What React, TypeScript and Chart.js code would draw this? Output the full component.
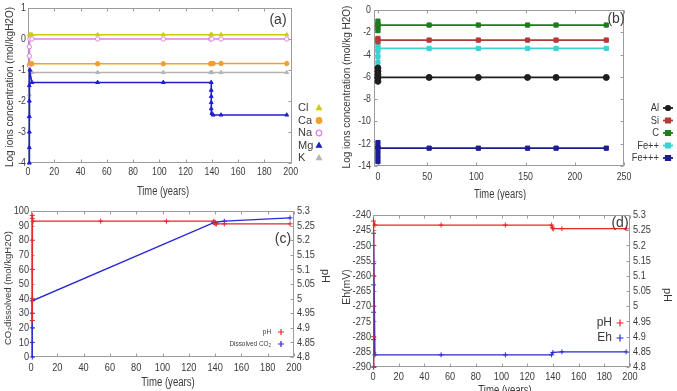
import React, { useEffect, useRef } from "react";
import { Chart, registerables } from "chart.js";

Chart.register(...registerables);

// ---------- panel (a): major ions (log mol/kgH2O) ----------
const ionXTicks = [0, 20, 40, 60, 80, 100, 120, 140, 160, 180, 200];
const ionYTicks = [-4, -3, -2, -1, 0, 1];

const clYears = [1, 2, 3, 53, 103, 139, 140, 147, 197];
const clLog = [0.14, 0.14, 0.14, 0.14, 0.14, 0.14, 0.14, 0.14, 0.14];

const caYears = [1.5, 3, 53, 103, 139, 140, 141, 147, 197];
const caLog = [-0.8, -0.8, -0.8, -0.8, -0.8, -0.79, -0.79, -0.79, -0.79];

const naYears = [1, 1, 1, 1.5, 3, 53, 103, 139, 140, 147, 197];
const naLog = [-0.85, -0.55, -0.25, 0, 0, 0, 0, 0, 0, 0, 0];

const mgYears = [1, 1, 1, 1, 1, 1, 1.5, 3, 53, 103, 139.5, 139.5, 139.5, 139.5, 139.5, 140, 141, 147, 197];
const mgLog = [-4.0, -3.5, -3.0, -2.5, -2.0, -1.5, -1.0, -1.4, -1.4, -1.4, -1.4, -1.65, -1.85, -2.05, -2.25, -2.4, -2.45, -2.45, -2.45];

const kYears = [1, 1, 1.5, 3, 53, 103, 139, 140, 147, 197];
const kLog = [-2.5, -1.8, -1.08, -1.08, -1.08, -1.08, -1.08, -1.08, -1.08, -1.08];

// ---------- panel (b): minor species ----------
const minorXTicks = [0, 50, 100, 150, 200, 250];
const minorYTicks = [-14, -12, -10, -8, -6, -4, -2, 0];

const alYears = [0, 0, 0, 0, 0, 0, 52, 102, 152, 181, 232];
const alLog = [-5.2, -5.5, -5.8, -6.1, -6.4, -6.05, -6.05, -6.05, -6.05, -6.05, -6.05];

const siYears = [0, 0, 0, 52, 102, 152, 181, 232];
const siLog = [-2.55, -2.85, -2.7, -2.7, -2.7, -2.7, -2.7, -2.7];

const cYears = [0, 0, 0, 0, 0, 52, 102, 152, 181, 232];
const cLog = [-1.0, -1.3, -1.6, -1.85, -1.35, -1.35, -1.35, -1.35, -1.35, -1.35];

const fe2Years = [0, 0, 0, 0, 0, 0, 52, 102, 152, 181, 232];
const fe2Log = [-3.2, -3.7, -4.2, -4.7, -5.3, -3.45, -3.45, -3.45, -3.45, -3.45, -3.45];

const fe3Years = [0, 0, 0, 0, 0, 0, 52, 102, 152, 181, 232];
const fe3Log = [-11.9, -12.3, -12.8, -13.2, -13.6, -12.4, -12.4, -12.4, -12.4, -12.4, -12.4];

// ---------- panel (c): dissolved CO2 and pH ----------
const timeTicks = [0, 20, 40, 60, 80, 100, 120, 140, 160, 180, 200];
const co2Ticks = [0, 10, 20, 30, 40, 50, 60, 70, 80, 90, 100];
const phTicks = [4.8, 4.85, 4.9, 4.95, 5, 5.05, 5.1, 5.15, 5.2, 5.25, 5.3];

const phCYears = [1, 1, 1, 1, 1, 1, 1.5, 53, 103, 139, 140, 141, 147, 197];
const phCValues = [4.925, 5.0, 5.1, 5.2, 5.285, 5.275, 5.265, 5.265, 5.265, 5.265, 5.256, 5.256, 5.256, 5.256];

const co2Years = [1, 1, 1, 1, 1, 139, 140, 147, 197];
const co2Values = [0, 10, 20, 30, 38.5, 92, 92.3, 93, 95.3];

// ---------- panel (d): Eh and pH ----------
const ehTicks = [-290, -285, -280, -275, -270, -265, -260, -255, -250, -245, -240];

const phDYears = [0.5, 0.5, 0.5, 0.5, 0.5, 0.5, 1.5, 53, 103, 139, 139.5, 140, 147, 197];
const phDValues = [4.8, 4.9, 5.0, 5.1, 5.2, 5.28, 5.267, 5.267, 5.267, 5.267, 5.26, 5.255, 5.255, 5.255];

const ehYears = [0.5, 0.5, 0.5, 0.5, 0.5, 0.5, 1.5, 53, 103, 139, 140, 147, 197];
const ehValues = [-290, -281, -272, -263, -256, -246, -286, -286, -286, -286, -285.2, -285, -285];

// ---------- styling ----------
const SANS = "'Liberation Sans', 'DejaVu Sans', sans-serif";
const TEXT = "#3a3a3a";
const FRAME = "#9c9c9c";
const RED = "#e8262a";
const BLUE = "#2a2ad8";

const pts = (t: number[], v: number[]) => t.map((x, i) => ({ x, y: v[i] }));
const fmt = (v: any) => String(Number(Number(v).toFixed(2)));

function drawMark(ctx: CanvasRenderingContext2D, style: string, x: number, y: number, r: number, fill: string, stroke: string) {
  ctx.beginPath();
  if (style === "triangle") {
    ctx.moveTo(x, y - r);
    ctx.lineTo(x + r * 0.9, y + r * 0.6);
    ctx.lineTo(x - r * 0.9, y + r * 0.6);
    ctx.closePath();
  } else if (style === "rect") {
    ctx.rect(x - r, y - r, 2 * r, 2 * r);
  } else if (style === "cross") {
    ctx.moveTo(x - r, y);
    ctx.lineTo(x + r, y);
    ctx.moveTo(x, y - r);
    ctx.lineTo(x, y + r);
  } else {
    ctx.arc(x, y, r, 0, Math.PI * 2);
  }
  if (style !== "cross") {
    ctx.fillStyle = fill;
    ctx.fill();
  }
  ctx.strokeStyle = stroke;
  ctx.lineWidth = 1.2;
  ctx.stroke();
}

// narrow text: horizontally squeezed Liberation Sans
function squeezedText(ctx: CanvasRenderingContext2D, text: string, x: number, y: number, size: number, sx: number, align: CanvasTextAlign, rot = 0) {
  ctx.save();
  ctx.translate(x, y);
  if (rot) ctx.rotate((rot * Math.PI) / 180);
  ctx.scale(sx, 1);
  ctx.font = `${size}px ${SANS}`;
  ctx.fillStyle = TEXT;
  ctx.textAlign = align;
  ctx.textBaseline = "middle";
  ctx.fillText(text, 0, 0);
  ctx.restore();
}

// plot frame with small inward ticks
const framePlugin = {
  id: "frame",
  beforeDatasetsDraw(chart: any) {
    const { ctx, chartArea: a, scales } = chart;
    const L = Math.round(a.left) + 0.5, R = Math.round(a.right) - 0.5;
    const T = Math.round(a.top) + 0.5, B = Math.round(a.bottom) - 0.5;
    ctx.save();
    ctx.strokeStyle = FRAME;
    ctx.lineWidth = 1;
    ctx.strokeRect(L, T, R - L, B - T);
    ctx.beginPath();
    for (const t of scales.x.ticks) {
      const p = Math.round(scales.x.getPixelForValue(t.value)) + 0.5;
      ctx.moveTo(p, B); ctx.lineTo(p, B - 3);
      ctx.moveTo(p, T); ctx.lineTo(p, T + 3);
    }
    for (const t of scales.y.ticks) {
      const p = Math.round(scales.y.getPixelForValue(t.value)) + 0.5;
      ctx.moveTo(L, p); ctx.lineTo(L + 3, p);
      if (!scales.y2) { ctx.moveTo(R, p); ctx.lineTo(R - 3, p); }
    }
    if (scales.y2) {
      for (const t of scales.y2.ticks) {
        const p = Math.round(scales.y2.getPixelForValue(t.value)) + 0.5;
        ctx.moveTo(R, p); ctx.lineTo(R - 3, p);
      }
    }
    ctx.stroke();
    ctx.restore();
  },
};

// tick numbers, placed from the scales' own tick values
const tickLabelPlugin = {
  id: "tickLabels",
  afterDraw(chart: any, _a: any, o: any) {
    const { ctx, chartArea: a, scales } = chart;
    for (const t of scales.x.ticks)
      squeezedText(ctx, fmt(t.value), scales.x.getPixelForValue(t.value), a.bottom + o.xOff, o.size, o.sx, "center");
    for (const t of scales.y.ticks)
      squeezedText(ctx, fmt(t.value), a.left - o.gap, scales.y.getPixelForValue(t.value), o.size, o.sx, "right");
    if (scales.y2)
      for (const t of scales.y2.ticks)
        squeezedText(ctx, fmt(t.value), a.right + o.gap2, scales.y2.getPixelForValue(t.value), o.size, o.sx, "left");
  },
};

// axis titles and panel tags
const textPlugin = {
  id: "texts",
  afterDraw(chart: any, _a: any, opts: any) {
    const { ctx } = chart;
    for (const it of opts.items || []) {
      squeezedText(ctx, it.text, it.x, it.y, it.size, it.sx ?? 1, "center", it.rot || 0);
    }
  },
};

// key drawn from the datasets themselves
const keyPlugin = {
  id: "key",
  afterDraw(chart: any, _a: any, o: any) {
    if (!o || !o.rowY) return;
    const { ctx } = chart;
    chart.data.datasets.forEach((ds: any, i: number) => {
      const y = o.rowY[i];
      squeezedText(ctx, ds.label, o.textX, y, o.size, o.sx ?? 1, o.align);
      ctx.save();
      if (o.lineHalf) {
        ctx.strokeStyle = ds.borderColor;
        ctx.lineWidth = ds.borderWidth;
        ctx.beginPath();
        ctx.moveTo(o.markX - o.lineHalf, y);
        ctx.lineTo(o.markX + o.lineHalf, y);
        ctx.stroke();
      }
      drawMark(ctx, ds.pointStyle, o.markX, y, o.markR, ds.pointBackgroundColor, ds.pointBorderColor);
      ctx.restore();
    });
  },
};

function series(label: string, t: number[], v: number[], color: string, style: string, opts: any = {}) {
  return {
    label,
    data: pts(t, v),
    borderColor: color,
    borderWidth: opts.width ?? 1.5,
    pointStyle: style,
    pointRadius: opts.r ?? 2.2,
    pointBackgroundColor: opts.fill ?? color,
    pointBorderColor: color,
    pointBorderWidth: 1,
    tension: 0,
    clip: false,
    yAxisID: opts.axis ?? "y",
  };
}

function linearAxis(min: number, max: number, ticks: number[], pos: string, size: number) {
  const horizontal = pos === "bottom";
  return {
    type: "linear",
    position: pos,
    min,
    max,
    afterBuildTicks: (s: any) => {
      s.ticks = ticks.map((value) => ({ value }));
    },
    afterFit: (s: any) => {
      if (horizontal) s.height = size;
      else s.width = size;
    },
    grid: { display: false, drawTicks: false },
    border: { display: false },
    ticks: { display: false },
  };
}

function baseOptions(padding: any, scales: any, tickLabels: any, texts: any[], key: any) {
  return {
    responsive: false,
    animation: false,
    events: [],
    layout: { padding },
    scales,
    plugins: {
      legend: { display: false },
      tooltip: { enabled: false },
      tickLabels,
      texts: { items: texts },
      key,
    },
  };
}

const PLUGINS = [framePlugin, tickLabelPlugin, textPlugin, keyPlugin];

function configA(): any {
  return {
    type: "line",
    data: {
      datasets: [
        series("Cl", clYears, clLog, "#cccc00", "triangle"),
        series("Ca", caYears, caLog, "#f0a030", "circle"),
        series("Na", naYears, naLog, "#e47fe4", "circle", { fill: "#ffffff" }),
        series("Mg", mgYears, mgLog, "#1f1fd0", "triangle"),
        series("K", kYears, kLog, "#b4b4b4", "triangle"),
      ],
    },
    options: baseOptions(
      { left: 0, top: 8, right: 45, bottom: 0 },
      {
        x: linearAxis(0, 201, ionXTicks, "bottom", 37),
        y: linearAxis(-4, 1, ionYTicks, "left", 28),
      },
      { size: 11, sx: 0.8, xOff: 9, gap: 2 },
      [
        { text: "Log ions concentration (mol/kgH2O)", x: 10, y: 87, rot: -90, size: 10 },
        { text: "Time (years)", x: 163, y: 192, size: 12, sx: 0.78 },
        { text: "(a)", x: 278, y: 20, size: 14 },
      ],
      { rowY: [108, 120.5, 133, 145.5, 158], textX: 298, align: "left", markX: 319, markR: 2.8, size: 11 }
    ),
    plugins: PLUGINS,
  };
}

function configB(): any {
  const o = { r: 3, width: 1.8 };
  return {
    type: "line",
    data: {
      datasets: [
        series("Al", alYears, alLog, "#1e1e1e", "circle", o),
        series("Si", siYears, siLog, "#b23a3a", "rect", o),
        series("C", cYears, cLog, "#1e7d1e", "rect", o),
        series("Fe++", fe2Years, fe2Log, "#3cd2d2", "rect", o),
        series("Fe+++", fe3Years, fe3Log, "#1c1c96", "rect", o),
      ],
    },
    options: baseOptions(
      { left: 0, top: 10, right: 53, bottom: 0 },
      {
        x: linearAxis(-4, 250, minorXTicks, "bottom", 34),
        y: linearAxis(-14, 0, minorYTicks, "left", 37),
      },
      { size: 11, sx: 0.8, xOff: 11, gap: 3 },
      [
        { text: "Log ions concentration (mol/kg H2O)", x: 10, y: 87, rot: -90, size: 10 },
        { text: "Time (years)", x: 163, y: 195, size: 12, sx: 0.78 },
        { text: "(b)", x: 279, y: 19, size: 14 },
      ],
      { rowY: [108, 120.5, 133, 145.5, 158], textX: 322, align: "right", markX: 331, markR: 2.5, lineHalf: 5, size: 11, sx: 0.85 }
    ),
    plugins: PLUGINS,
  };
}

function configC(): any {
  return {
    type: "line",
    data: {
      datasets: [
        series("pH", phCYears, phCValues, RED, "cross", { axis: "y2", width: 1.3, r: 2.5 }),
        series("Dissolved CO\u2082", co2Years, co2Values, BLUE, "cross", { width: 1.3, r: 2.5 }),
      ],
    },
    options: baseOptions(
      { left: 0, top: 11, right: 0, bottom: 0 },
      {
        x: linearAxis(0, 200, timeTicks, "bottom", 34),
        y: linearAxis(0, 100, co2Ticks, "left", 31),
        y2: linearAxis(4.8, 5.3, phTicks, "right", 43),
      },
      { size: 11.5, sx: 0.8, xOff: 11, gap: 2, gap2: 3 },
      [
        { text: "CO\u2082dissolved (mol/kgH2O)", x: 8, y: 88, rot: -90, size: 9.5 },
        { text: "Time (years)", x: 168, y: 183, size: 12, sx: 0.8 },
        { text: "pH", x: 325, y: 76, rot: 90, size: 11 },
        { text: "(c)", x: 283, y: 39, size: 14 },
      ],
      { rowY: [132, 144], textX: 271, align: "right", markX: 281, markR: 3, size: 8, sx: 0.8 }
    ),
    plugins: PLUGINS,
  };
}

function configD(): any {
  return {
    type: "line",
    data: {
      datasets: [
        series("pH", phDYears, phDValues, RED, "cross", { axis: "y2", width: 1.3, r: 2.5 }),
        series("Eh", ehYears, ehValues, BLUE, "cross", { width: 1.3, r: 2.5 }),
      ],
    },
    options: baseOptions(
      { left: 0, top: 15, right: 0, bottom: 0 },
      {
        x: linearAxis(0, 200, timeTicks, "bottom", 24),
        y: linearAxis(-290, -240, ehTicks, "left", 36),
        y2: linearAxis(4.8, 5.3, phTicks, "right", 47),
      },
      { size: 11.5, sx: 0.8, xOff: 10, gap: 2, gap2: 3 },
      [
        { text: "Eh(mV)", x: 10, y: 87, rot: -90, size: 10.5 },
        { text: "Time (years)", x: 168, y: 191, size: 12, sx: 0.8 },
        { text: "pH", x: 330, y: 95, rot: 90, size: 11 },
        { text: "(d)", x: 283, y: 23, size: 14 },
      ],
      { rowY: [123, 138], textX: 275, align: "right", markX: 283, markR: 3.5, size: 12 }
    ),
    plugins: PLUGINS,
  };
}

function Panel(props: { left: number; top: number; width: number; height: number; build: () => any }) {
  const { left, top, width, height, build } = props;
  const ref = useRef<HTMLCanvasElement>(null);
  useEffect(() => {
    const chart = new Chart(ref.current as HTMLCanvasElement, build());
    return () => chart.destroy();
  }, []);
  return (
    <div style={{ position: "absolute", left, top, width, height }}>
      <canvas ref={ref} width={width} height={height} style={{ display: "block", width, height }} />
    </div>
  );
}

export default function App() {
  return (
    <div style={{ position: "absolute", left: 0, top: 0, width: 677, height: 391, background: "#ffffff", overflow: "hidden" }}>
      <Panel left={0} top={0} width={337} height={200} build={configA} />
      <Panel left={337} top={0} width={340} height={200} build={configB} />
      <Panel left={0} top={200} width={337} height={191} build={configC} />
      <Panel left={337} top={200} width={340} height={191} build={configD} />
    </div>
  );
}
